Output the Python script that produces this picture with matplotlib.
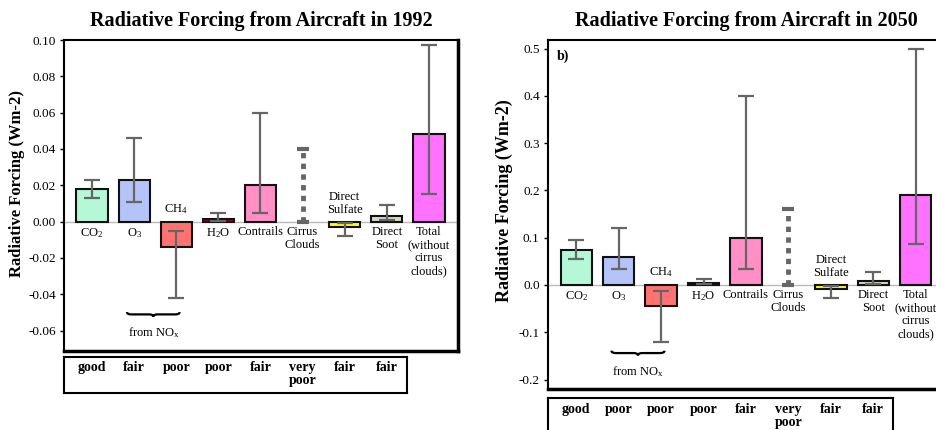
import matplotlib.pyplot as plt
import numpy as np
from matplotlib.path import Path
from matplotlib.patches import PathPatch
from matplotlib.transforms import blended_transform_factory

plt.rcParams['font.family'] = ['Liberation Serif', 'DejaVu Serif']
plt.rcParams['mathtext.fontset'] = 'custom'
plt.rcParams['mathtext.rm'] = 'Liberation Serif'
plt.rcParams['mathtext.default'] = 'regular'

labels = ['CO$_2$', 'O$_3$', 'CH$_4$', 'H$_2$O', 'Contrails', 'Cirrus\nClouds',
          'Direct\nSulfate', 'Direct\nSoot', 'Total\n(without\ncirrus\nclouds)']
colors = ['#b4f8d8', '#b4c4f8', '#ff7272', '#990033', '#ff8fc4', 'none',
          '#ffff00', '#d8d8c4', '#ff72ff']
cirrus = 5

# best estimates (nan = no best estimate) and low/high ranges, W m-2
rf_1992 = [0.018, 0.023, -0.014, 0.0015, 0.020, np.nan, -0.003, 0.003, 0.048]
lo_1992 = [0.013, 0.011, -0.042, 0.0005, 0.005, 0.0, -0.008, 0.001, 0.015]
hi_1992 = [0.023, 0.046, -0.005, 0.0045, 0.060, 0.040, -0.001, 0.009, 0.097]

rf_2050 = [0.074, 0.060, -0.045, 0.004, 0.100, np.nan, -0.009, 0.009, 0.19]
lo_2050 = [0.054, 0.033, -0.12, 0.0013, 0.033, 0.0, -0.027, 0.003, 0.087]
hi_2050 = [0.095, 0.12, -0.013, 0.012, 0.40, 0.16, -0.003, 0.027, 0.50]

qual_1992 = ['good', 'fair', 'poor', 'poor', 'fair', 'very\npoor', 'fair', 'fair']
qual_2050 = ['good', 'poor', 'poor', 'poor', 'fair', 'very\npoor', 'fair', 'fair']

W, H = 937, 430
fig = plt.figure(figsize=(W / 100, H / 100), dpi=100)


def px(x0, y0, x1, y1):
    return [x0 / W, 1 - y1 / H, (x1 - x0) / W, (y1 - y0) / H]


def brace(ax, x0, x1, y, h):
    xm = (x0 + x1) / 2
    q = (x1 - x0) * 0.08
    verts = [(x0, y), (x0, y - h / 2), (x0 + q, y - h / 2),
             (xm - q, y - h / 2), (xm, y - h / 2), (xm, y - h),
             (xm, y - h / 2), (xm + q, y - h / 2),
             (x1 - q, y - h / 2), (x1, y - h / 2), (x1, y)]
    codes = [Path.MOVETO, Path.CURVE3, Path.CURVE3,
             Path.LINETO, Path.CURVE3, Path.CURVE3,
             Path.CURVE3, Path.CURVE3,
             Path.LINETO, Path.CURVE3, Path.CURVE3]
    ax.add_patch(PathPatch(Path(verts, codes), fc='none', ec='black', lw=1.6))


def panel(box, tbox, title, rf, lo, hi, qual, ylim, ticks, fmt, brace_y, from_y,
          lab_xy, lab_size, tag=None):
    ax = fig.add_axes(px(*box))
    x = np.arange(len(labels))
    rf = np.array(rf)
    lo = np.array(lo)
    hi = np.array(hi)
    ok = ~np.isnan(rf)
    ax.axhline(0, color='#bbbbbb', lw=1, zorder=1)
    ax.bar(x[ok], rf[ok], width=0.74, color=[c for c, k in zip(colors, ok) if k],
           edgecolor='#111111', lw=1.5, zorder=2)
    ax.errorbar(x[ok], rf[ok], yerr=[rf[ok] - lo[ok], hi[ok] - rf[ok]], fmt='none',
                ecolor='#666666', elinewidth=1.6, capsize=6, capthick=1.6, zorder=3)
    ax.plot([cirrus, cirrus], [lo[cirrus], hi[cirrus]], color='#666666', lw=3.5,
            ls=(0, (1.1, 1.1)), zorder=3)
    ax.plot([cirrus, cirrus], [lo[cirrus], hi[cirrus]], ls='none', marker='_',
            ms=9, mew=3, color='#666666', zorder=3)
    for i, lab in enumerate(labels):
        if rf[i] < 0:
            ax.annotate(lab, (i, 0), xytext=(0, 4), textcoords='offset points',
                        ha='center', va='bottom', fontsize=9, linespacing=1.12)
        else:
            ax.annotate(lab, (i, 0), xytext=(0, -3), textcoords='offset points',
                        ha='center', va='top', fontsize=9, linespacing=1.12)
    brace(ax, 0.83, 2.08, brace_y[0], brace_y[1])
    ax.text(1.46, from_y, 'from NO$_x$', ha='center', va='center', fontsize=9)
    ax.set_xlim(-0.665, 8.69)
    ax.set_ylim(*ylim)
    ax.set_yticks(ticks)
    ax.set_yticklabels([fmt.format(t) for t in ticks])
    ax.set_xticks([])
    ax.tick_params(axis='y', labelsize=9.5, length=3, width=1, pad=3)
    for s in ax.spines.values():
        s.set_linewidth(1.5)
    ax.spines['right'].set_linewidth(2.5)
    ax.spines['bottom'].set_linewidth(2.5)
    ax.set_title(title, fontsize=14.5, fontweight='bold', pad=10)
    ax.set_ylabel('Radiative Forcing (Wm-2)', fontsize=lab_size, fontweight='bold')
    ax.yaxis.set_label_coords(*lab_xy)
    if tag:
        ax.text(0.023, 0.954, tag, transform=ax.transAxes, fontsize=10,
                fontweight='bold', va='center')

    tax = fig.add_axes(px(*tbox))
    tax.set_xticks([])
    tax.set_yticks([])
    for s in tax.spines.values():
        s.set_linewidth(1.5)
    tr = blended_transform_factory(ax.transData, tax.transAxes)
    for i, q in enumerate(qual):
        tax.text(i, 0.88, q, transform=tr, ha='center', va='top', fontsize=10,
                 fontweight='bold', linespacing=1.0)
    return ax


panel((64, 40, 458, 351), (64, 357, 407, 393),
      'Radiative Forcing from Aircraft in 1992', rf_1992, lo_1992, hi_1992,
      qual_1992, (-0.0712, 0.10),
      [0.10, 0.08, 0.06, 0.04, 0.02, 0.0, -0.02, -0.04, -0.06], '{:.2f}',
      (-0.0498, 0.0025), -0.061, (-0.098, 0.54), 12)

panel((548, 40, 945, 389), (548, 398, 893, 436),
      'Radiative Forcing from Aircraft in 2050', rf_2050, lo_2050, hi_2050,
      qual_2050, (-0.22, 0.518),
      [0.5, 0.4, 0.3, 0.2, 0.1, 0.0, -0.1, -0.2], '{:.1f}',
      (-0.139, 0.01), -0.184, (-0.088, 0.54), 13, tag='b)')

fig.savefig('out.png', dpi=100)
